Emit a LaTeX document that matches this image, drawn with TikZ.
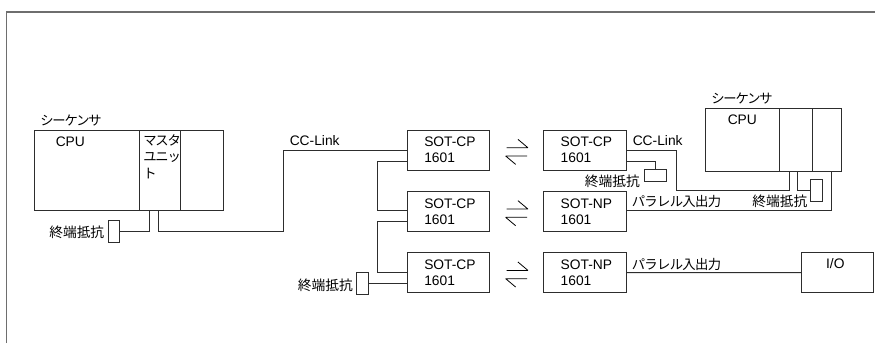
\documentclass[tikz,border=0pt]{standalone}
\usepackage{fontspec}
\setmainfont{Liberation Sans}
\newfontfamily\jpfont{Noto Sans CJK JP}
\newfontfamily\kanafont[LetterSpace=-9]{Noto Sans CJK JP}
\newfontfamily\parfont[LetterSpace=-5]{Noto Sans CJK JP}
\usetikzlibrary{positioning, calc}
\definecolor{wireGray}{RGB}{45, 45, 45}
\definecolor{frameGray}{RGB}{110, 110, 110}
\newcommand{\unitlabel}[1]{\mbox{#1}\\1601}
\begin{document}
\begin{tikzpicture}[
        x=0.75pt, y=-0.75pt,
        node distance=16pt and 40.3pt,
        sotBox/.style={rectangle, draw=wireGray, line width=0.75pt, outer sep=0pt, minimum width=62pt, minimum height=30pt, inner xsep=12.75pt, inner ysep=0pt, text width=36.5pt, align=left, font=\fontsize{10.35}{12}\selectfont},
        seqCell/.style={rectangle, draw=wireGray, line width=0.75pt, outer sep=0pt, inner sep=0pt},
        termBox/.style={rectangle, draw=wireGray, line width=0.75pt, outer sep=0pt, inner sep=0pt, minimum width=8.6pt, minimum height=16.5pt},
        termFlat/.style={termBox, minimum width=16.5pt, minimum height=8.6pt},
        txtLabel/.style={anchor=west, inner sep=0pt, font=\fontsize{10.35}{12}\selectfont},
        jpLabel/.style={anchor=west, inner sep=0pt, font=\jpfont\fontsize{10.3}{12}\selectfont},
        kanaLabel/.style={anchor=west, inner sep=0pt, font=\kanafont\fontsize{10}{12}\selectfont},
        parLabel/.style={anchor=west, inner sep=0pt, font=\parfont\fontsize{10}{12}\selectfont},
        wire/.style={draw=wireGray, line width=0.75pt},
        txArrow/.style={draw=black, line width=0.6pt, line join=bevel}
    ]
        \useasboundingbox (0,0) rectangle (875,343);
        \draw[frameGray, line width=1.1pt] (6.5,343) -- (6.5,12) -- (875,12);

        % left sequencer
        \node[seqCell, minimum width=78.75pt, minimum height=60pt] (cpuL) at (87,170) {};
        \node[seqCell, minimum width=30.75pt, minimum height=60pt, right=0pt of cpuL] (masterL) {};
        \node[seqCell, minimum width=31.9pt, minimum height=60pt, right=0pt of masterL] (thirdL) {};
        \node[kanaLabel] (seqTextL) at (40,121) {シーケンサ};
        \node[txtLabel] (cpuTextL) at (55.5,141.5) {CPU};
        \node[kanaLabel] (masterTextA) at (143,140.5) {マスタ};
        \node[kanaLabel] (masterTextB) at (143,157) {ユニッ};
        \node[kanaLabel] (masterTextC) at (143,174) {ト};
        \node[termBox] (termL) at (113.75,231.7) {};
        \node[jpLabel, anchor=east] (termTextL) at (104.5,232.5) {終端抵抗};

        % converter units
        \node[sotBox] (sotA) at (448.6,150) {\unitlabel{SOT-CP}};
        \node[sotBox, below=of sotA] (sotB) {\unitlabel{SOT-CP}};
        \node[sotBox, below=of sotB] (sotC) {\unitlabel{SOT-CP}};
        \node[sotBox, right=of sotA] (sotD) {\unitlabel{SOT-CP}};
        \node[sotBox, right=of sotB] (sotE) {\unitlabel{SOT-NP}};
        \node[sotBox, right=of sotC] (sotF) {\unitlabel{SOT-NP}};

        \foreach \a/\b in {sotA/sotD, sotB/sotE, sotC/sotF} {
            \draw[txArrow] ($(\a.east)+(12.5pt,1.7pt)$) -- ($(\b.west)+(-11.8pt,1.7pt)$) -- ++(-7.5pt,6.3pt);
            \draw[txArrow] ($(\b.west)+(-12.5pt,-4.5pt)$) -- ($(\a.east)+(11.8pt,-4.5pt)$) -- ++(7.5pt,-6.3pt);
        }

        % right sequencer
        \node[seqCell, minimum width=55.3pt, minimum height=47pt] (cpuR) at (742.85,139.7) {};
        \node[seqCell, minimum width=24.45pt, minimum height=47pt, right=0pt of cpuR] (masterR) {};
        \node[seqCell, minimum width=21.75pt, minimum height=47pt, right=0pt of masterR] (thirdR) {};
        \node[kanaLabel] (seqTextR) at (711,99) {シーケンサ};
        \node[txtLabel] (cpuTextR) at (727.5,120) {CPU};
        \node[termFlat] (termD) at (655.4,175.6) {};
        \node[jpLabel, anchor=east] (termTextD) at (640,181.5) {終端抵抗};
        \node[termBox] (termR) at (816.5,190.3) {};
        \node[jpLabel, anchor=east] (termTextR) at (807.5,201.5) {終端抵抗};
        \node[termBox] (termC) at (362.5,283.7) {};
        \node[jpLabel, anchor=east] (termTextC) at (353,285) {終端抵抗};

        \node[seqCell, minimum width=54.2pt, minimum height=30pt, anchor=west] (ioBox) at (801,272.7) {};
        \node[txtLabel, anchor=center] (ioText) at (835.3,263.5) {I/O};

        % link labels
        \node[txtLabel] (linkTextL) at (289.5,140.5) {CC-Link};
        \node[txtLabel] (linkTextR) at (632.5,140.5) {CC-Link};
        \node[parLabel] (parTextE) at (631.5,201.5) {パラレル入出力};
        \node[parLabel] (parTextF) at (631.5,264.5) {パラレル入出力};

        % bend points
        \coordinate (bendL) at (283.5,231.5);
        \coordinate (busA) at (377.3,190);
        \coordinate (busB) at (377.3,250);
        \coordinate (bendR) at (676,190.3);

        \draw[wire] (termL.east) -| ([xshift=7.5pt]masterL.south west);
        \draw[wire] ([xshift=14.6pt]masterL.south west) |- (bendL) |- (sotA.west);
        \draw[wire] ([yshift=-8.25pt]sotA.west) -| (busA) |- ([yshift=1pt]sotB.west);
        \draw[wire] ([yshift=-7.5pt]sotB.west) -| (busB) |- (sotC.west);
        \draw[wire] (termC.east) -- (termC.east -| sotC.west);
        \draw[wire] (sotD.east) -| (bendR) -| ([xshift=7.2pt]masterR.south west);
        \draw[wire] ([yshift=-8.25pt]sotD.east) -| (termD.north);
        \draw[wire] ([xshift=13.5pt]masterR.south west) |- (termR.west);
        \draw[wire] ([yshift=1pt]sotE.east) -| ([xshift=14.25pt]thirdR.south west);
        \draw[wire] (sotF.east) -- (ioBox.west);
    \end{tikzpicture}
\end{document}
